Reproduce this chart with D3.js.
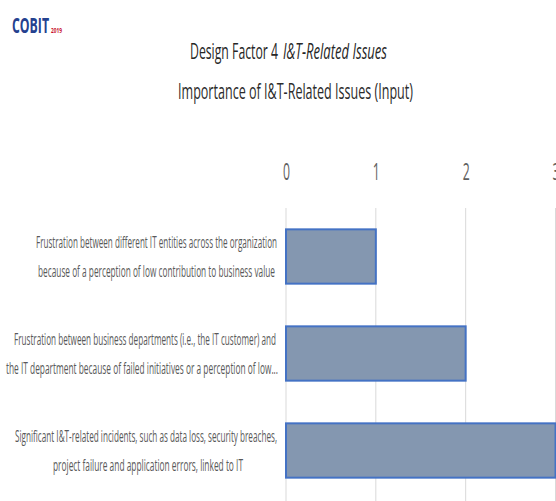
<!DOCTYPE html>
<html>
<head>
<meta charset="utf-8">
<script src="https://cdn.jsdelivr.net/npm/d3@7"></script>
<style>
  html, body { margin: 0; padding: 0; background: #fff; }
  svg { display: block; }
</style>
</head>
<body>
<svg id="chart" width="556" height="501"></svg>
<script>
// ---- data ----
const categories = [
  "Frustration between different IT entities across the organization because of a perception of low contribution to business value",
  "Frustration between business departments (i.e., the IT customer) and the IT department because of failed initiatives or a perception of low...",
  "Significant I&T-related incidents, such as data loss, security breaches, project failure and application errors, linked to IT"
];
const labelLines = [
  ["Frustration between different IT entities across the organization", "because of a perception of low contribution to business value"],
  ["Frustration between business departments (i.e., the IT customer) and", "the IT department because of failed initiatives or a perception of low..."],
  ["Significant I&T-related incidents, such as data loss, security breaches,", "project failure and application errors, linked to IT"]
];
const values = [1, 2, 3];
const tickValues = [0, 1, 2, 3];
const titleLine1 = "Design Factor 4";
const titleLine1Italic = "I&T-Related Issues";
const titleLine2 = "Importance of I&T-Related Issues (Input)";

// ---- layout ----
const svg = d3.select("#chart");
const font = "'Liberation Sans Narrow', 'Open Sans', Arial, sans-serif";

const x = d3.scaleLinear().domain([0, 3]).range([286, 555.5]);
const y = d3.scaleBand().domain(categories).range([208, 499]).paddingInner(0.44).paddingOuter(0.22);

// logo
svg.append("text").attr("x", 12).attr("y", 33)
  .attr("font-family", font).attr("font-weight", "bold").attr("font-size", 22)
  .attr("fill", "#24418f").attr("textLength", 37).attr("lengthAdjust", "spacingAndGlyphs")
  .text("COBIT");
svg.append("text").attr("x", 51).attr("y", 33)
  .attr("font-family", font).attr("font-weight", "bold").attr("font-size", 7)
  .attr("fill", "#c8102e").attr("textLength", 11).attr("lengthAdjust", "spacingAndGlyphs")
  .text("2019");

// titles
svg.append("text").attr("x", 190).attr("y", 59)
  .attr("font-family", font).attr("font-size", 22).attr("fill", "#262626")
  .attr("textLength", 88).attr("lengthAdjust", "spacingAndGlyphs")
  .text(titleLine1);
svg.append("text").attr("x", 283).attr("y", 59)
  .attr("font-family", font).attr("font-size", 22).attr("font-style", "italic").attr("fill", "#262626")
  .attr("textLength", 104).attr("lengthAdjust", "spacingAndGlyphs")
  .text(titleLine1Italic);
svg.append("text").attr("x", 178).attr("y", 99)
  .attr("font-family", font).attr("font-size", 22).attr("fill", "#2b2b2b")
  .attr("textLength", 235).attr("lengthAdjust", "spacingAndGlyphs")
  .text(titleLine2);

// gridlines
svg.append("g").selectAll("line").data(tickValues).join("line")
  .attr("x1", d => x(d)).attr("x2", d => x(d))
  .attr("y1", 208).attr("y2", 501)
  .attr("stroke", "#d9d9d9").attr("stroke-width", 1);

// top axis labels
const xAxis = d3.axisTop(x).tickValues(tickValues).tickSize(0).tickPadding(0).tickFormat(d3.format("d"));
const gx = svg.append("g").attr("transform", "translate(0,180)").call(xAxis);
gx.select(".domain").remove();
gx.selectAll("text")
  .attr("font-family", font).attr("font-size", 24).attr("fill", "#5f5f5f")
  .attr("dy", 0).attr("textLength", 7).attr("lengthAdjust", "spacingAndGlyphs");

// bars
svg.append("g").selectAll("rect").data(values).join("rect")
  .attr("x", x(0))
  .attr("y", (d, i) => y(categories[i]))
  .attr("width", d => x(d) - x(0))
  .attr("height", y.bandwidth())
  .attr("fill", "#8497b0")
  .attr("stroke", "#4472c4").attr("stroke-width", 2);

// category labels
const lineWidths = [[241, 237], [262, 272], [262, 190]];
const lineCenters = [[156.5, 156.5], [145, 142], [146, 148]];
const lab = svg.append("g");
labelLines.forEach((lines, i) => {
  const cy = y(categories[i]) + y.bandwidth() / 2;
  lines.forEach((ln, j) => {
    lab.append("text")
      .attr("x", lineCenters[i][j]).attr("y", cy + (j === 0 ? -14.5 : 14.5))
      .attr("dy", "0.35em").attr("text-anchor", "middle")
      .attr("font-family", font).attr("font-size", 17).attr("fill", "#595959")
      .attr("textLength", lineWidths[i][j]).attr("lengthAdjust", "spacingAndGlyphs")
      .text(ln);
  });
});
</script>
</body>
</html>
